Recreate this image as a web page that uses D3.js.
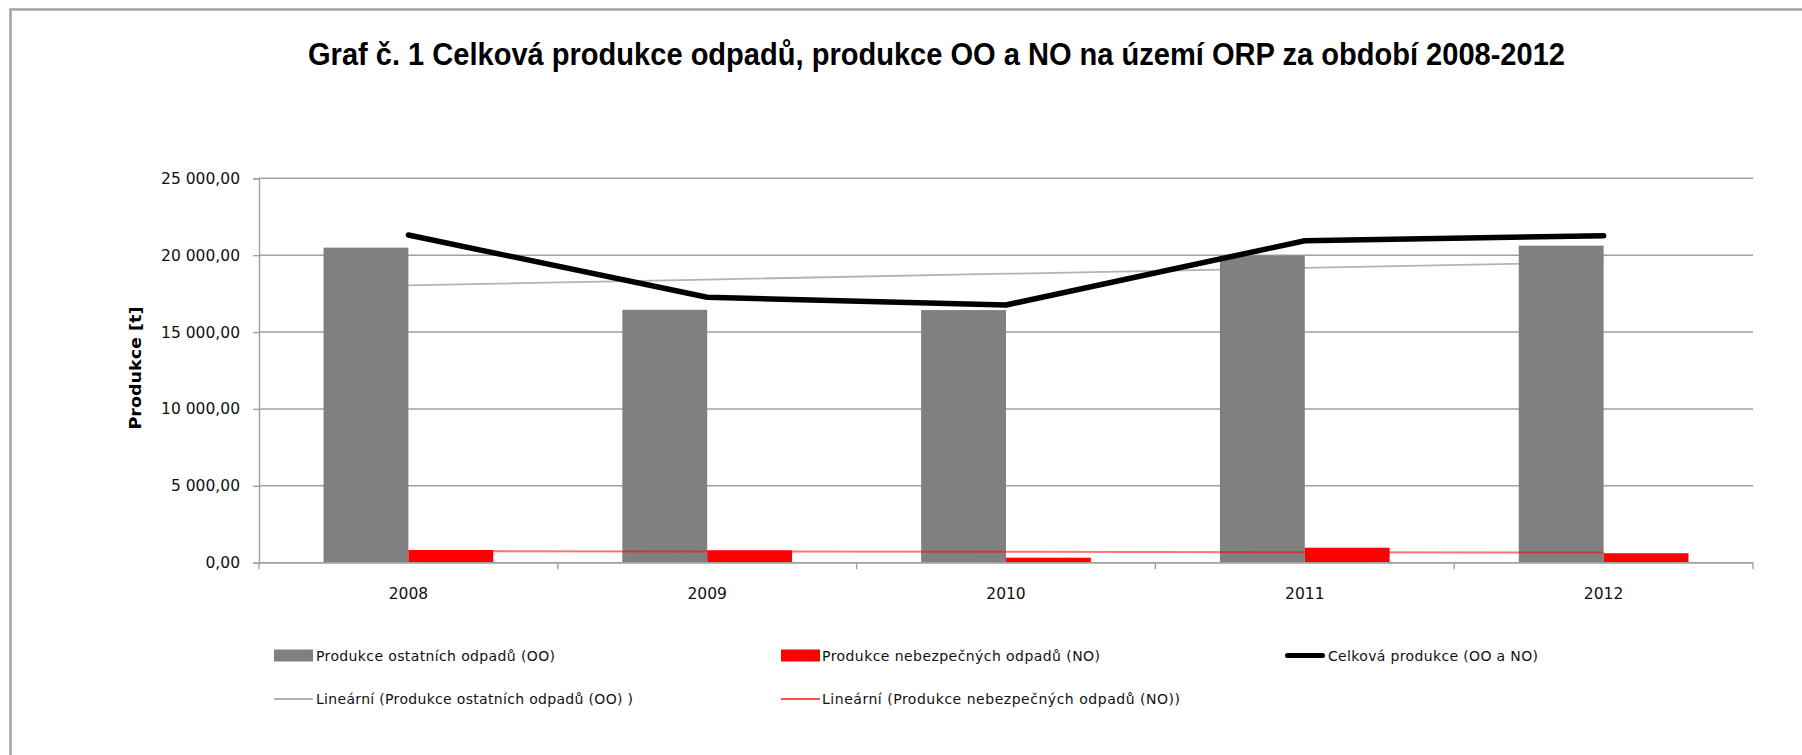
<!DOCTYPE html>
<html>
<head>
<meta charset="utf-8">
<script src="https://cdn.jsdelivr.net/npm/d3@7"></script>
<style>
  html, body { margin: 0; padding: 0; background: #fff; overflow: hidden; }
  svg { display: block; }
</style>
</head>
<body>
<script>
// ---- data ----
const title = "Graf č. 1 Celková produkce odpadů, produkce OO a NO na území ORP za období 2008-2012";
const yAxisTitle = "Produkce [t]";
const categories = ["2008", "2009", "2010", "2011", "2012"];
const ooValues = [20490, 16450, 16430, 19980, 20620];      // Produkce ostatních odpadů (OO)
const noValues = [826, 806, 325, 976, 615];                // Produkce nebezpečných odpadů (NO)
const totalValues = [21310, 17260, 16760, 20940, 21260];   // Celková produkce (OO a NO)
const yTicks = [0, 5000, 10000, 15000, 20000, 25000];
const legendLabels = [
  "Produkce ostatních odpadů (OO)",
  "Produkce nebezpečných odpadů (NO)",
  "Celková produkce (OO a NO)",
  "Lineární (Produkce ostatních odpadů (OO) )",
  "Lineární (Produkce nebezpečných odpadů (NO))"
];

// ---- layout ----
const W = 1802, H = 755;
const plot = { left: 259, right: 1753, top: 178.3, bottom: 562.7 };

const svg = d3.select("body").append("svg").attr("width", W).attr("height", H);

// outer frame (only top and left edges visible)
svg.append("path")
  .attr("d", `M10.5,${H + 5} L10.5,9.5 L${W + 5},9.5`)
  .attr("fill", "none").attr("stroke", "#a3a3a3").attr("stroke-width", 2.5);

// title
svg.append("text")
  .attr("x", 308).attr("y", 65)
  .attr("textLength", 1257).attr("lengthAdjust", "spacingAndGlyphs")
  .style("font-family", "'Liberation Sans', Arial, sans-serif")
  .style("font-weight", "bold").style("font-size", "31px").attr("fill", "#000")
  .text(title);

const x = d3.scaleBand().domain(categories).range([plot.left, plot.right]).paddingInner(0).paddingOuter(0);
const y = d3.scaleLinear().domain([0, 25000]).range([plot.bottom, plot.top]);

const cz = d3.formatLocale({ decimal: ",", thousands: "\u00a0", grouping: [3], currency: ["", " Kč"] });
const fmt = cz.format(",.2f");

// gridlines
svg.append("g").selectAll("line").data(yTicks).join("line")
  .attr("x1", plot.left).attr("x2", plot.right)
  .attr("y1", d => y(d)).attr("y2", d => y(d))
  .attr("stroke", "#a0a0a0").attr("stroke-width", 1.4);

// y axis
const yAxis = svg.append("g").attr("transform", `translate(${plot.left},0)`)
  .call(d3.axisLeft(y).tickValues(yTicks).tickFormat(fmt).tickSize(6).tickPadding(13));
yAxis.select(".domain").attr("stroke", "#a0a0a0").attr("stroke-width", 1.4);
yAxis.selectAll(".tick line").attr("stroke", "#a0a0a0").attr("stroke-width", 1.4);
yAxis.selectAll(".tick text")
  .style("font-family", "'DejaVu Sans', Verdana, sans-serif").style("font-size", "15.5px")
  .attr("fill", "#111");

// y axis title
svg.append("text")
  .attr("transform", "translate(141,368) rotate(-90)")
  .attr("text-anchor", "middle")
  .attr("textLength", 123).attr("lengthAdjust", "spacingAndGlyphs")
  .style("font-family", "'DejaVu Sans', sans-serif").style("font-weight", "bold").style("font-size", "16.5px")
  .attr("fill", "#000")
  .text(yAxisTitle);

// bars
const barW = x.bandwidth() * 0.284;
const center = d => x(d) + x.bandwidth() / 2;

svg.append("g").selectAll("rect").data(categories).join("rect")
  .attr("x", (d) => center(d) - barW)
  .attr("y", (d, i) => y(ooValues[i]))
  .attr("width", barW)
  .attr("height", (d, i) => y(0) - y(ooValues[i]))
  .attr("fill", "#808080");

svg.append("g").selectAll("rect").data(categories).join("rect")
  .attr("x", (d) => center(d))
  .attr("y", (d, i) => y(noValues[i]))
  .attr("width", barW)
  .attr("height", (d, i) => y(0) - y(noValues[i]))
  .attr("fill", "#ff0000");

// x axis
const xAxisG = svg.append("g").attr("transform", `translate(0,${plot.bottom})`);
xAxisG.append("line").attr("x1", plot.left).attr("x2", plot.right)
  .attr("stroke", "#a0a0a0").attr("stroke-width", 1.4);
const edges = categories.map(d => x(d)).concat([plot.right]);
xAxisG.selectAll("line.tk").data(edges).join("line").attr("class", "tk")
  .attr("x1", d => d).attr("x2", d => d).attr("y1", 0).attr("y2", 6.5)
  .attr("stroke", "#a0a0a0").attr("stroke-width", 1.4);
xAxisG.selectAll("text").data(categories).join("text")
  .attr("x", d => center(d)).attr("y", 36)
  .attr("text-anchor", "middle")
  .style("font-family", "'DejaVu Sans', Verdana, sans-serif").style("font-size", "15.5px")
  .attr("fill", "#111")
  .text(d => d);

// linear trendlines (least squares, like Excel's)
function linFit(vals) {
  const xs = vals.map((v, i) => i + 1);
  const mx = d3.mean(xs), my = d3.mean(vals);
  const b = d3.sum(xs.map((xv, i) => (xv - mx) * (vals[i] - my))) / d3.sum(xs.map(xv => (xv - mx) ** 2));
  const a = my - b * mx;
  return xs.map(xv => a + b * xv);
}
const line = d3.line().x((d, i) => center(categories[i])).y(d => y(d));

svg.append("path").datum(linFit(ooValues)).attr("d", line)
  .attr("fill", "none").attr("stroke", "#808080").attr("stroke-opacity", 0.6).attr("stroke-width", 1.8);
svg.append("path").datum(linFit(noValues)).attr("d", line)
  .attr("fill", "none").attr("stroke", "#ff0000").attr("stroke-opacity", 0.55).attr("stroke-width", 2);

// total line
svg.append("path").datum(totalValues).attr("d", line)
  .attr("fill", "none").attr("stroke", "#000").attr("stroke-width", 5.5)
  .attr("stroke-linecap", "round").attr("stroke-linejoin", "round");

// legend
const legend = svg.append("g")
  .style("font-family", "'DejaVu Sans', Verdana, sans-serif").style("font-size", "14px");
const legItems = [
  { type: "rect", color: "#808080", sx: 274, cy: 655.5, tx: 316, w: 239 },
  { type: "rect", color: "#ff0000", sx: 781, cy: 655.5, tx: 822, w: 278 },
  { type: "thick", color: "#000", sx: 1285, cy: 655.5, tx: 1328, w: 210 },
  { type: "thin", color: "#808080", op: 0.6, sx: 274, cy: 699, tx: 316, w: 317 },
  { type: "thin", color: "#ff0000", op: 0.7, sx: 781, cy: 699, tx: 822, w: 358 }
];
legItems.forEach((it, i) => {
  if (it.type === "rect") {
    legend.append("rect").attr("x", it.sx).attr("y", it.cy - 6).attr("width", 39).attr("height", 12).attr("fill", it.color);
  } else if (it.type === "thick") {
    legend.append("line").attr("x1", it.sx + 2.5).attr("x2", it.sx + 37.5).attr("y1", it.cy).attr("y2", it.cy)
      .attr("stroke", it.color).attr("stroke-width", 5).attr("stroke-linecap", "round");
  } else {
    legend.append("line").attr("x1", it.sx).attr("x2", it.sx + 39).attr("y1", it.cy).attr("y2", it.cy)
      .attr("stroke", it.color).attr("stroke-opacity", it.op).attr("stroke-width", 2);
  }
  legend.append("text").attr("x", it.tx).attr("y", it.cy + 5)
    .attr("textLength", it.w).attr("lengthAdjust", "spacing")
    .attr("fill", "#111")
    .text(legendLabels[i]);
});
</script>
</body>
</html>
